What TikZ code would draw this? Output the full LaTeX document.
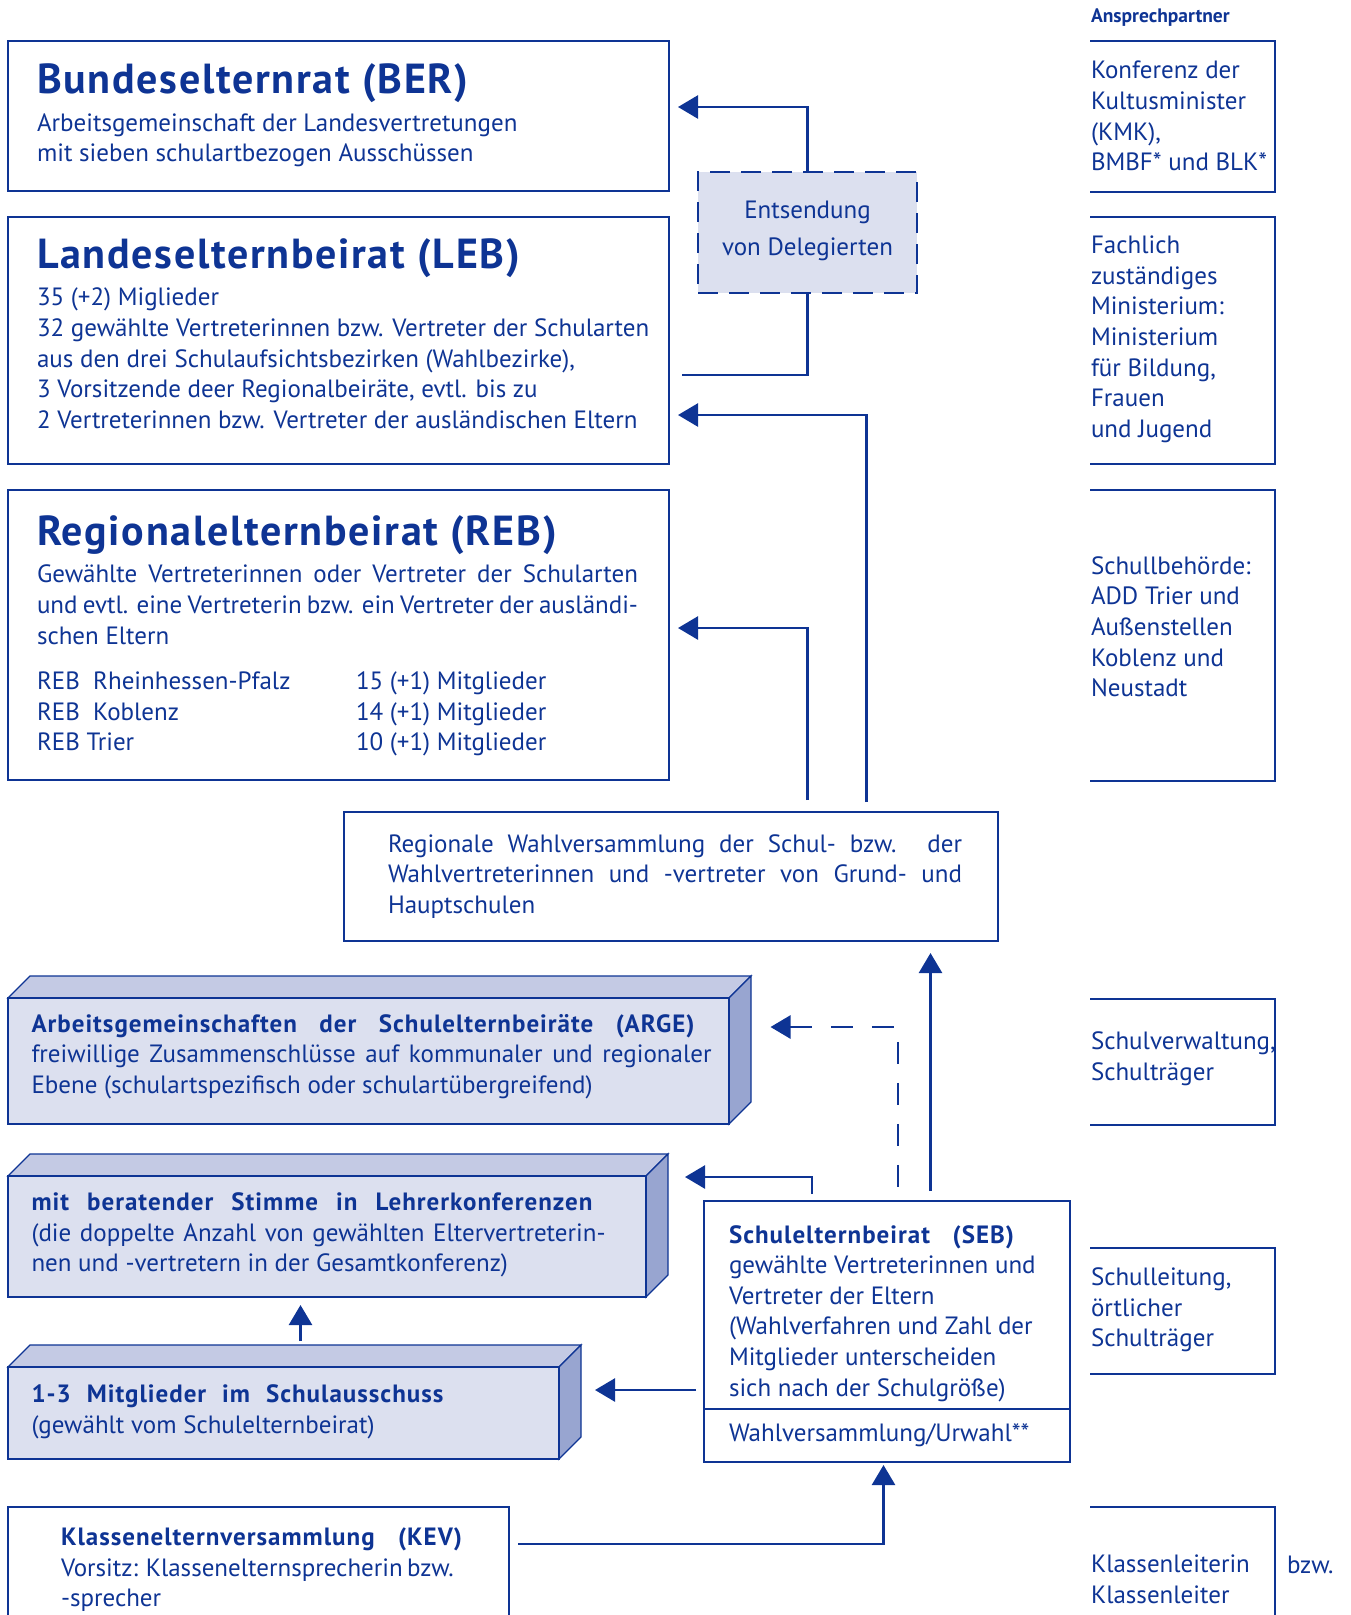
\documentclass[tikz,border=0pt]{standalone}
\usepackage{fontspec}
\setmainfont{PT Sans}
\usetikzlibrary{arrows.meta,calc,backgrounds}

\definecolor{ink}{RGB}{14,52,148}
\definecolor{paleblue}{RGB}{220,224,239}
\definecolor{topblue}{RGB}{196,202,228}
\definecolor{sideblue}{RGB}{152,165,208}

\newcommand{\bodyfont}{\fontsize{25}{30.6}\selectfont}
\newcommand{\titlefont}{\fontsize{42}{46}\selectfont\bfseries\addfontfeatures{LetterSpace=4}}
\newcommand{\boldline}{\bfseries\addfontfeatures{LetterSpace=4}}
\newcommand{\partnerhead}{\fontsize{19.5}{22}\selectfont\bfseries}
\newcommand{\just}[2]{\makebox[#1][s]{#2}}

\begin{document}
\begin{tikzpicture}[x=1pt, y=-1pt, >={Triangle[length=20pt,width=23pt]},
    every node/.style={inner sep=0pt, outer sep=0pt, text=ink},
    box/.style={draw=ink, line width=2.6pt, anchor=north west},
    cube/.style={box, fill=paleblue},
    delegbox/.style={box, fill=paleblue, dash pattern=on 20pt off 11pt},
    txt/.style={anchor=base west, align=left, font=\bodyfont},
    title/.style={anchor=base west, font=\titlefont},
    wire/.style={draw=ink, line width=2.6pt},
    faint/.style={draw=ink, line width=1.3pt},
    cubetop/.style={faint, fill=topblue},
    cubeside/.style={faint, fill=sideblue}]
    \useasboundingbox (0,0) rectangle (1351,1615);

    % federal and state level (text nodes sit on their last baseline)
    \node [box, minimum width=661pt, minimum height=150pt] (ber) at (8,41) {};
    \node [title] (bername) at (37,93) {Bundeselternrat (BER)};
    \node [txt] (bertext) at (37,161.7) {Arbeitsgemeinschaft der Landesvertretungen\\
        mit sieben schulartbezogen Ausschüssen};

    \node [box, minimum width=661pt, minimum height=247pt] (leb) at (8,217) {};
    \node [title] (lebname) at (37,268) {Landeselternbeirat (LEB)};
    \node [txt] (lebtext) at (37,428.3) {35 (+2) Miglieder\\
        32 gewählte Vertreterinnen bzw. Vertreter der Schularten\\
        aus den drei Schulaufsichtsbezirken (Wahlbezirke),\\
        3 Vorsitzende deer Regionalbeiräte, evtl. bis zu\\
        2 Vertreterinnen bzw. Vertreter der ausländischen Eltern};

    \node [delegbox, minimum width=219pt, minimum height=121pt] (deleg) at (698,172) {};
    \node [anchor=base, align=center, font=\fontsize{25}{37}\selectfont] (delegtext) at (807.5,255)
        {Entsendung\\von Delegierten};

    % regional level
    \node [box, minimum width=661pt, minimum height=290pt] (reb) at (8,490) {};
    \node [title] (rebname) at (37,545) {Regionalelternbeirat (REB)};
    \node [txt] (rebtext) at (37,644) {\just{601pt}{Gewählte Vertreterinnen oder Vertreter der Schularten}\\
        \just{601pt}{und evtl. eine Vertreterin bzw. ein Vertreter der ausländi-}\\
        schen Eltern};
    \node [txt] (rebnames) at (37,750.7) {REB\ \ Rheinhessen-Pfalz\\REB\ \ Koblenz\\REB Trier};
    \node [txt] (rebcount) at (356,750.7) {15 (+1) Mitglieder\\14 (+1) Mitglieder\\10 (+1) Mitglieder};

    \node [box, minimum width=654pt, minimum height=129pt] (rwv) at (344,812) {};
    \node [txt] (rwvtext) at (388,913.3) {\just{574pt}{Regionale Wahlversammlung der Schul- bzw. der}\\
        \just{574pt}{Wahlvertreterinnen und -vertreter von Grund- und}\\
        Hauptschulen};

    % school level
    \node [cube, minimum width=721pt, minimum height=126pt] (arge) at (8,998) {};
    \node [txt] (argetext) at (31.5,1093.3) {\just{663pt}{\boldline Arbeitsgemeinschaften der Schulelternbeiräte (ARGE)}\\
        \just{680pt}{freiwillige Zusammenschlüsse auf kommunaler und regionaler}\\
        Ebene (schulartspezifisch oder schulartübergreifend)};

    \node [cube, minimum width=638pt, minimum height=121pt] (lk) at (8,1176) {};
    \node [txt] (lktext) at (31.5,1271.7) {\just{561pt}{\boldline mit beratender Stimme in Lehrerkonferenzen}\\
        \just{574pt}{(die doppelte Anzahl von gewählten Eltervertreterin-}\\
        nen und -vertretern in der Gesamtkonferenz)};

    \node [cube, minimum width=551pt, minimum height=92pt] (sa) at (8,1367) {};
    \node [txt] (satext) at (31.5,1433.3) {\just{412pt}{\boldline 1-3 Mitglieder im Schulausschuss}\\
        (gewählt vom Schulelternbeirat)};

    \node [box, minimum width=366pt, minimum height=261pt] (seb) at (704,1201) {};
    \node [txt] (sebtext) at (729,1396) {\just{285pt}{\boldline Schulelternbeirat (SEB)}\\
        gewählte Vertreterinnen und\\
        Vertreter der Eltern\\
        (Wahlverfahren und Zahl der\\
        Mitglieder unterscheiden\\
        sich nach der Schulgröße)};
    \node [txt] (sebvote) at (729,1441.7) {Wahlversammlung/Urwahl**};
    \coordinate (sebdiv) at (704,1409);
    \draw [wire] (sebdiv) -- (sebdiv -| seb.east);

    \node [box, minimum width=501pt, minimum height=150pt] (kev) at (8,1507) {};
    \node [txt] (kevtext) at (61,1606.7) {\just{401pt}{\boldline Klassenelternversammlung (KEV)}\\
        \just{388pt}{Vorsitz: Klassenelternsprecherin bzw.}\\
        -sprecher};

    % depth faces of the three blocks
    \begin{scope}[on background layer]
    \foreach \n in {arge, lk, sa} {
        \filldraw [cubetop] (\n.north west) -- ++(22,-22) -- ($(\n.north east)+(22,-22)$)
            -- (\n.north east) -- cycle;
        \filldraw [cubeside] (\n.north east) -- ++(22,-22) -- ($(\n.south east)+(22,-22)$)
            -- (\n.south east) -- cycle;
    }
    \end{scope}

    % right column: Ansprechpartner
    \node [anchor=base west, font=\partnerhead] (partner) at (1091,22.7) {Ansprechpartner};
    \foreach \t/\b in {41/192, 217/464, 490/781, 999/1125, 1248/1374, 1507/1660}
        \draw [faint] (1090,\t) -| (1275,\b) -- (1090,\b);
    \node [txt] (kmk) at (1091,170.7) {Konferenz der\\Kultusminister\\(KMK),\\BMBF* und BLK*};
    \node [txt] (ministry) at (1091,437.3) {Fachlich\\zuständiges\\Ministerium:\\Ministerium\\für Bildung,\\Frauen\\und Jugend};
    \node [txt] (add) at (1091,696.7) {Schullbehörde:\\ADD Trier und\\Außenstellen\\Koblenz und\\Neustadt};
    \node [txt] (admin) at (1091,1080) {Schulverwaltung,\\Schulträger};
    \node [txt] (head) at (1091,1346.7) {Schulleitung,\\örtlicher\\Schulträger};
    \node [txt] (teacher) at (1091,1603.3) {Klassenleiterin\\Klassenleiter};
    \node [txt] (bzw) at (1287,1573.3) {bzw.};

    % connector ends
    \coordinate (berin)  at (678,107);
    \coordinate (lebout) at (682,375);
    \coordinate (lebin)  at (678,415);
    \coordinate (rebin)  at (678,628);
    \coordinate (rwvA)   at (866.5,802);
    \coordinate (rwvB)   at (807.5,800);
    \coordinate (rwvin)  at (930.5,953);
    \coordinate (sebA)   at (930.5,1191);
    \coordinate (sebB)   at (898,1191);
    \coordinate (sebC)   at (812,1194);
    \coordinate (sebD)   at (696,1390);
    \coordinate (argein) at (770.5,1027);
    \coordinate (lkin)   at (685,1177);
    \coordinate (sain)   at (595,1390);
    \coordinate (saup)   at (300.5,1341);
    \coordinate (lkbot)  at (300.5,1305);
    \coordinate (kevout) at (518,1544);
    \coordinate (sebin)  at (883.5,1465);

    % arrows
    \draw [wire,->] (deleg.north) |- (berin);
    \draw [wire] (deleg.south) |- (lebout);
    \draw [wire,->] (rwvA) |- (lebin);
    \draw [wire,->] (rwvB) |- (rebin);
    \draw [wire,->] (sebA) -- (rwvin);
    \draw [wire,<-,dash pattern=on 22pt off 19pt] (argein) -| (sebB);
    \draw [wire,->] (sebC) |- (lkin);
    \draw [wire,->] (sebD) -- (sain);
    \draw [wire,->] (saup) -- (lkbot);
    \draw [wire,->] (kevout) -| (sebin);
\end{tikzpicture}
\end{document}
